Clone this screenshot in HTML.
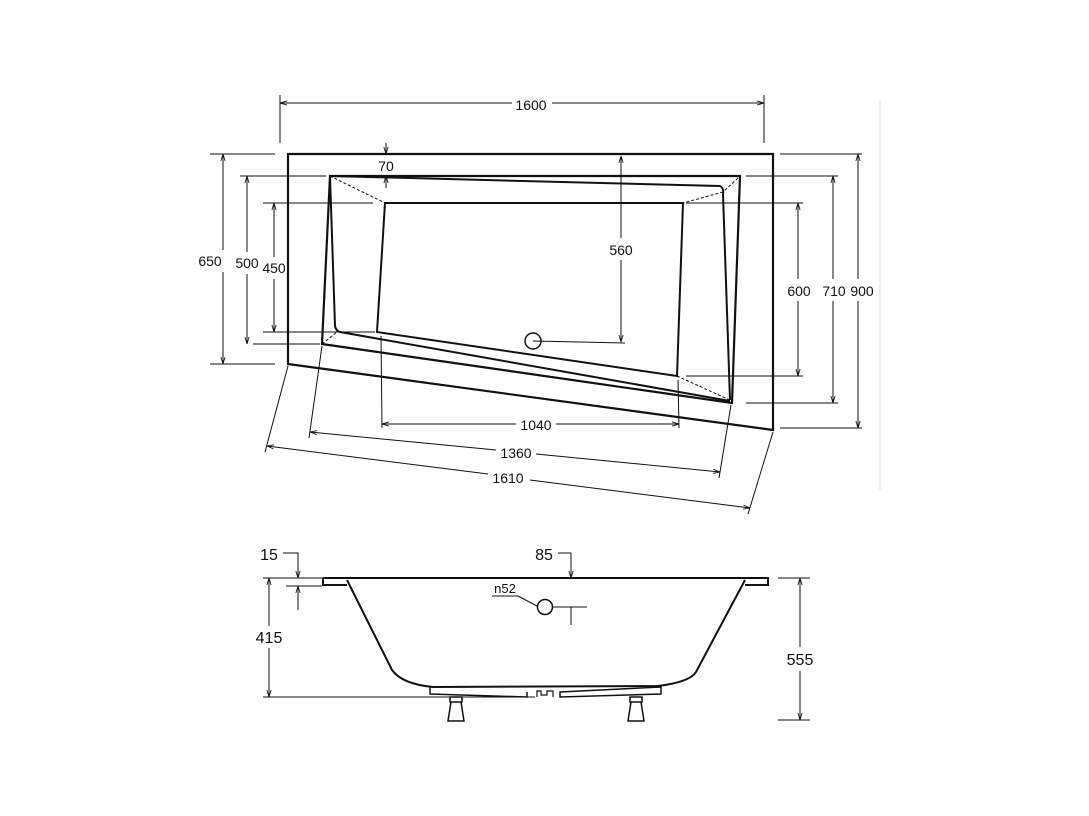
<!DOCTYPE html>
<html><head><meta charset="utf-8"><style>
html,body{margin:0;padding:0;background:#fff;}
svg{display:block}
text{font-family:"Liberation Sans",sans-serif;font-size:14px;fill:#111;}
</style></head><body>
<svg width="1089" height="816" viewBox="0 0 1089 816" xmlns="http://www.w3.org/2000/svg">
<defs>
<marker id="a" viewBox="0 0 10 10" refX="10" refY="5" markerWidth="7" markerHeight="7" orient="auto-start-reverse"><path d="M0,2 L10,5 L0,8" fill="none" stroke="#111" stroke-width="1.2"/></marker>
</defs>
<g stroke="#111" fill="none">
<!-- outer -->
<path d="M288,154 L773,154 L773,430 L288,364 Z" stroke-width="2.2"/>
<!-- rim -->
<path d="M330,176 L740,176 L732,403 L322,344 Z" stroke-width="2.2"/>
<!-- seat inner -->
<path d="M330,176 L720,186 Q724,188 723,194 L730,400" stroke-width="2"/>
<path d="M330,176 L335,326 Q336,331 340,332 L730,401" stroke-width="2"/>
<!-- basin -->
<path d="M385,203 L683,203 L677,376 L377,332 Z" stroke-width="2"/>
<g stroke-dasharray="3,2" stroke-width="1">
<line x1="330" y1="176" x2="385" y2="203"/><line x1="738" y1="178" x2="723" y2="192"/><line x1="723" y1="192" x2="683" y2="203"/>
<line x1="337" y1="332" x2="377" y2="332"/><line x1="322" y1="344" x2="337" y2="332"/><line x1="677" y1="376" x2="732" y2="401"/>
</g>
<circle cx="533" cy="341" r="8" stroke-width="1.5"/>
<line x1="533" y1="341" x2="625" y2="343" stroke-width="1"/>
<g stroke-width="1">
<!-- 560 -->
<line x1="621" y1="156" x2="621" y2="238" marker-start="url(#a)"/><line x1="621" y1="260" x2="621" y2="342" marker-end="url(#a)"/>
<!-- 70 -->
<line x1="386" y1="143" x2="386" y2="154" marker-end="url(#a)"/><line x1="386" y1="188" x2="386" y2="176" marker-end="url(#a)"/>
<!-- 1600 -->
<line x1="280" y1="95" x2="280" y2="143"/><line x1="764" y1="95" x2="764" y2="143"/>
<line x1="280" y1="103" x2="512" y2="103" marker-start="url(#a)"/><line x1="552" y1="103" x2="764" y2="103" marker-end="url(#a)"/>
<!-- left dims -->
<line x1="210" y1="154" x2="275" y2="154"/><line x1="210" y1="364" x2="275" y2="364"/>
<line x1="223" y1="154" x2="223" y2="250" marker-start="url(#a)"/><line x1="223" y1="272" x2="223" y2="364" marker-end="url(#a)"/>
<line x1="240" y1="176" x2="326" y2="176"/><line x1="253" y1="344" x2="320" y2="344"/>
<line x1="247" y1="176" x2="247" y2="252" marker-start="url(#a)"/><line x1="247" y1="274" x2="247" y2="344" marker-end="url(#a)"/>
<line x1="263" y1="203" x2="373" y2="203"/><line x1="263" y1="332" x2="373" y2="332"/>
<line x1="274" y1="203" x2="274" y2="257" marker-start="url(#a)"/><line x1="274" y1="279" x2="274" y2="332" marker-end="url(#a)"/>
<!-- right dims -->
<line x1="686" y1="203" x2="803" y2="203"/><line x1="686" y1="376" x2="803" y2="376"/>
<line x1="798" y1="203" x2="798" y2="279" marker-start="url(#a)"/><line x1="798" y1="301" x2="798" y2="376" marker-end="url(#a)"/>
<line x1="746" y1="176" x2="838" y2="176"/><line x1="746" y1="403" x2="838" y2="403"/>
<line x1="833" y1="176" x2="833" y2="279" marker-start="url(#a)"/><line x1="833" y1="301" x2="833" y2="403" marker-end="url(#a)"/>
<line x1="780" y1="154" x2="862" y2="154"/><line x1="780" y1="428" x2="862" y2="428"/>
<line x1="858" y1="154" x2="858" y2="279" marker-start="url(#a)"/><line x1="858" y1="301" x2="858" y2="428" marker-end="url(#a)"/>
<line x1="880" y1="100" x2="880" y2="490" stroke="#ddd"/>
<!-- 1040 -->
<line x1="381" y1="336" x2="382" y2="428"/><line x1="678" y1="380" x2="679" y2="428"/>
<line x1="382" y1="424" x2="516" y2="424" marker-start="url(#a)"/><line x1="556" y1="424" x2="679" y2="424" marker-end="url(#a)"/>
<!-- 1360 -->
<line x1="322" y1="346" x2="309" y2="438"/><line x1="731" y1="405" x2="719" y2="478"/>
<line x1="310" y1="432" x2="496" y2="450" marker-start="url(#a)"/><line x1="536" y1="454" x2="720" y2="472" marker-end="url(#a)"/>
<!-- 1610 -->
<line x1="288" y1="366" x2="265" y2="452"/><line x1="773" y1="432" x2="748" y2="514"/>
<line x1="267" y1="446" x2="488" y2="474" marker-start="url(#a)"/><line x1="530" y1="480" x2="750" y2="508" marker-end="url(#a)"/>
</g>
<!-- side view -->
<path d="M323,578 L768,578 L768,585 L745,585 M323,578 L323,585 L347,585" stroke-width="2"/>
<path d="M347,580 L392,670 Q402,684 433,687 L658,686 Q690,682 696,672 L745,580" stroke-width="2"/>
<path d="M430,687 L430,694 L527,697 L527,692 M560,697 L560,692 L661,687 L661,694 Z" stroke-width="1.5"/>
<path d="M537,697 L537,691 L541,691 L541,695 L547,695 L547,691 L553,691 L553,697" stroke-width="1.2"/>
<path d="M450,697 h12 v5 h-12 z M451,702 L461,702 L464,721 L448,721 Z" stroke-width="1.5"/>
<path d="M630,697 h12 v5 h-12 z M631,702 L641,702 L644,721 L628,721 Z" stroke-width="1.5"/>
<g stroke-width="1">
<line x1="263" y1="697" x2="535" y2="697"/><line x1="263" y1="578" x2="323" y2="578"/>
<line x1="269" y1="578" x2="269" y2="626" marker-start="url(#a)"/><line x1="269" y1="648" x2="269" y2="697" marker-end="url(#a)"/>
<polyline points="283,553 298,553 298,578"/><line x1="298" y1="566" x2="298" y2="578" marker-end="url(#a)"/>
<line x1="286" y1="586" x2="322" y2="586"/><line x1="298" y1="610" x2="298" y2="586" marker-end="url(#a)"/>
<polyline points="558,553 571,553 571,578"/><line x1="571" y1="566" x2="571" y2="578" marker-end="url(#a)"/>
<line x1="492" y1="596" x2="518" y2="596"/><line x1="518" y1="596" x2="537" y2="606"/>
<circle cx="545" cy="607" r="7.5" stroke-width="1.5"/>
<line x1="553" y1="607" x2="587" y2="607"/><line x1="571" y1="607" x2="571" y2="625"/>
<line x1="778" y1="578" x2="810" y2="578"/><line x1="778" y1="720" x2="810" y2="720"/>
<line x1="800" y1="578" x2="800" y2="647" marker-start="url(#a)"/><line x1="800" y1="671" x2="800" y2="720" marker-end="url(#a)"/>
</g>
</g>
<g text-anchor="middle">
<text x="531" y="110">1600</text>
<text x="386" y="171">70</text>
<text x="621" y="255">560</text>
<text x="210" y="266">650</text>
<text x="247" y="268">500</text>
<text x="274" y="273">450</text>
<text x="799" y="296">600</text>
<text x="834" y="296">710</text>
<text x="862" y="296">900</text>
<text x="536" y="430">1040</text>
<text x="516" y="458">1360</text>
<text x="508" y="483">1610</text>
<text x="269" y="560" style="font-size:16px">15</text>
<text x="544" y="560" style="font-size:16px">85</text>
<text x="505" y="593" style="font-size:13px">n52</text>
<text x="269" y="643" style="font-size:16px">415</text>
<text x="800" y="665" style="font-size:16px">555</text>
</g>
</svg>
</body></html>
